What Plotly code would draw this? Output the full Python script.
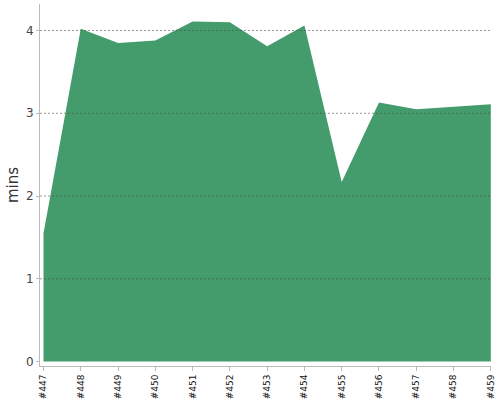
import plotly.graph_objects as go

builds = ["#447", "#448", "#449", "#450", "#451", "#452", "#453",
          "#454", "#455", "#456", "#457", "#458", "#459"]
mins = [1.55, 4.02, 3.85, 3.88, 4.11, 4.10, 3.81, 4.06, 2.17, 3.13, 3.05, 3.08, 3.11]
grid_vals = [1, 2, 3, 4]

fig = go.Figure()
fig.add_trace(go.Scatter(
    x=builds, y=mins, mode="lines", fill="tozeroy",
    fillcolor="#449c6c", line=dict(width=0, color="#449c6c"),
    hoverinfo="x+y", showlegend=False,
))

for g in grid_vals:
    fig.add_shape(type="line", xref="paper", yref="y", x0=0, x1=1, y0=g, y1=g,
                  line=dict(color="rgba(70,70,70,0.55)", width=1, dash="2px,2px"),
                  layer="above")

fig.update_layout(
    width=500, height=400,
    margin=dict(l=40, r=9, t=4, b=34),
    paper_bgcolor="white", plot_bgcolor="white",
    font=dict(family="DejaVu Sans", color="#444"),
    xaxis=dict(
        type="category", range=[-0.094, 12.005], automargin=False,
        showgrid=False, zeroline=False,
        showline=True, linecolor="#bbb", linewidth=1,
        ticks="outside", ticklen=4, tickcolor="#bbb",
        tickangle=-90, tickfont=dict(size=9, color="#111"),
    ),
    yaxis=dict(
        range=[-0.053, 4.32], automargin=False,
        tickvals=[0, 1, 2, 3, 4],
        showgrid=False, zeroline=False,
        showline=True, linecolor="#bbb", linewidth=1,
        ticks="outside", ticklen=3, tickcolor="#bbb",
        tickfont=dict(size=12, color="#444"),
        title=dict(text="mins", font=dict(size=15, color="#333"), standoff=3),
    ),
)

fig.write_html("out.html", config={"displayModeBar": False})

with open("out.html", encoding="utf-8") as f:
    html = f.read()
html = html.replace("<body>", '<body style="margin:0;padding:0;overflow:hidden">', 1)
with open("out.html", "w", encoding="utf-8") as f:
    f.write(html)
